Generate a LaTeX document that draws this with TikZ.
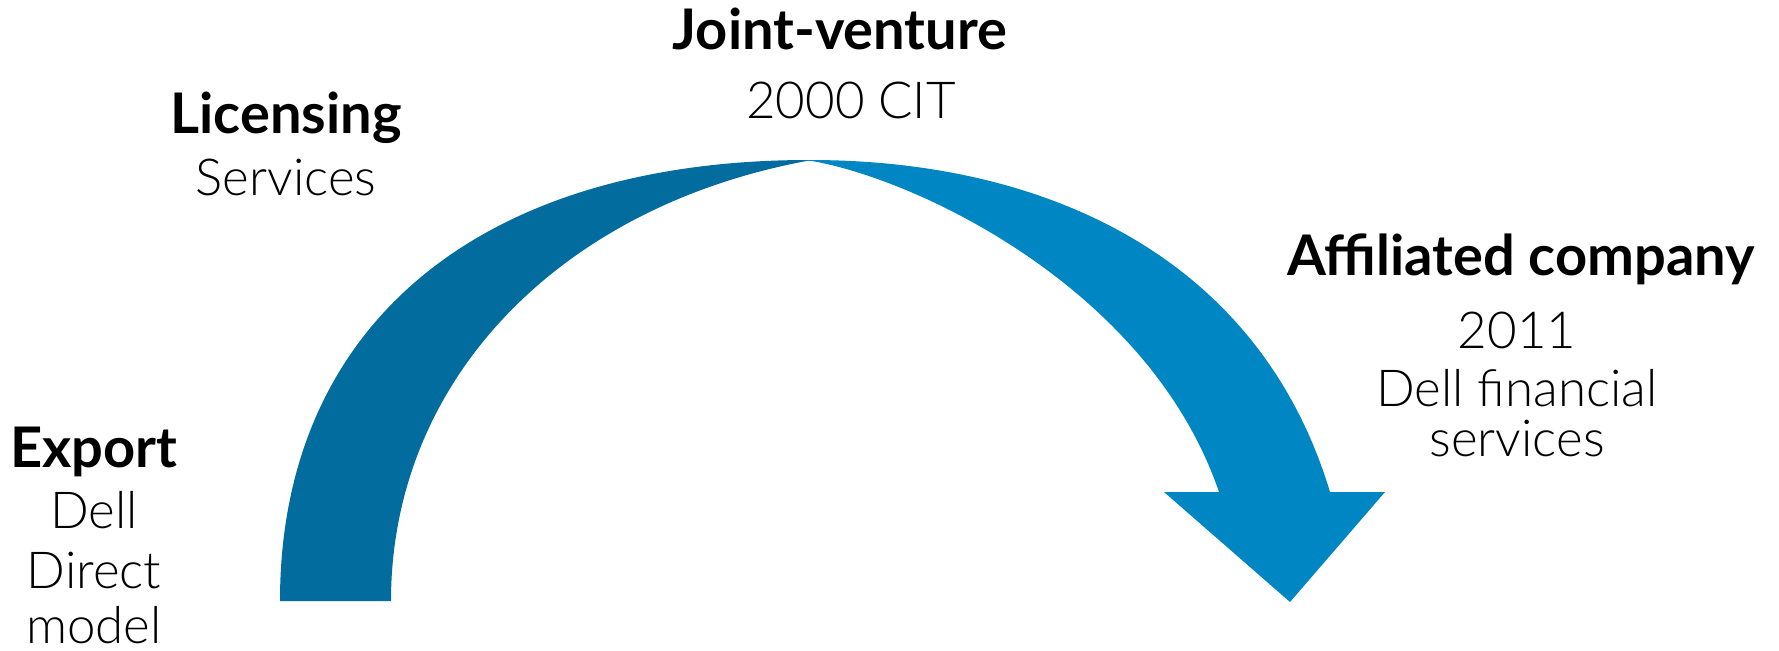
\documentclass[tikz,border=0pt]{standalone}
\usepackage{fontspec}
\setmainfont{Lato}[UprightFont={* Light}, BoldFont={* Bold}]
\definecolor{darkblue}{HTML}{026C9E}
\definecolor{lightblue}{HTML}{0087C3}
\begin{document}
\begin{tikzpicture}[x=0.5pt,y=-0.5pt,
  head/.style={font=\fontsize{28}{32}\selectfont\bfseries, inner sep=0pt, anchor=base},
  body/.style={font=\fontsize{25.5}{30}\selectfont, inner sep=0pt, anchor=base}]
\useasboundingbox (0,0) rectangle (1779,650);
% left band
\fill[darkblue] (280,601) .. controls (280,325) and (480,159) .. (812,160)
  .. controls (560,205) and (391,380) .. (391,601)
  -- cycle;
% right arrow
\fill[lightblue] (800,160) -- (810,160) .. controls (1050,160) and (1260,260) .. (1330,492)
  -- (1385,492) -- (1290,602) -- (1164,492) -- (1219,492)
  .. controls (1150,290) and (920,180) .. (812,161) -- cycle;
% labels
\node[head] (export) at (94,467) {Export};
\node[body] (dell) at (94,528) {Dell};
\node[body] (direct) at (94,588) {Direct};
\node[body] (model) at (94,643) {model};
\node[head] (lic) at (286,133) {Licensing};
\node[body] (serv) at (286,195) {Services};
\node[head] (jv) at (840,49) {Joint-venture};
\node[body] (cit) at (851,118) {2000 CIT};
\node[head] (aff) at (1521,275) {Affiliated company};
\node[body] (y2011) at (1517,348) {2011};
\node[body] (dfs) at (1517,406) {Dell financial};
\node[body] (svc) at (1517,456) {services};
\end{tikzpicture}
\end{document}
